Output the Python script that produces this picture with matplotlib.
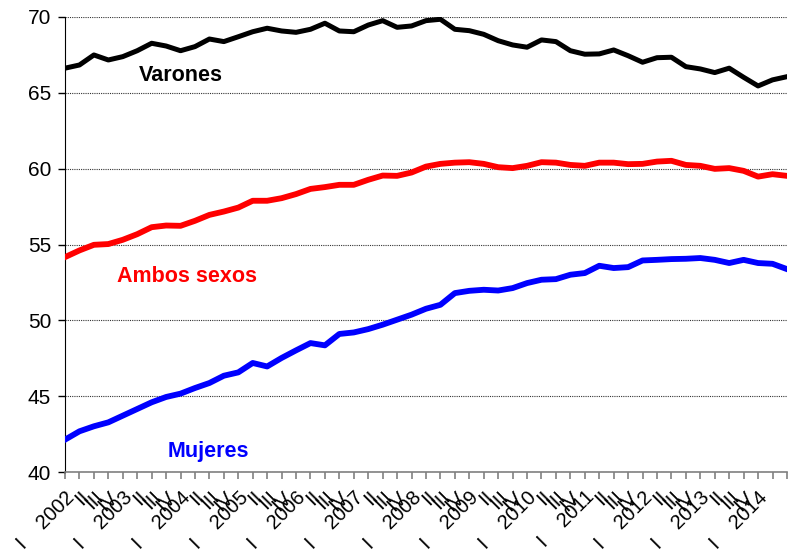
import matplotlib
matplotlib.use("Agg")
import matplotlib.pyplot as plt

plt.rcParams['font.family'] = ['Liberation Sans', 'DejaVu Sans']

# quarters 2002 I .. 2014 III
years = list(range(2002, 2015))
quarters = ['I', 'II', 'III', 'IV']

varones = [66.61, 66.82, 67.48, 67.15, 67.37, 67.76, 68.25, 68.07, 67.76, 68.03,
           68.53, 68.36, 68.68, 69.01, 69.24, 69.06, 68.97, 69.17, 69.57, 69.06,
           69.01, 69.45, 69.74, 69.30, 69.39, 69.74, 69.83, 69.17, 69.08, 68.84,
           68.42, 68.14, 67.99, 68.47, 68.36, 67.76, 67.53, 67.55, 67.81, 67.43,
           67.00, 67.30, 67.33, 66.71, 66.56, 66.32, 66.61, 66.01, 65.44, 65.84,
           66.05]
ambos = [54.17, 54.61, 54.98, 55.03, 55.31, 55.68, 56.14, 56.25, 56.23, 56.56,
         56.95, 57.17, 57.43, 57.88, 57.88, 58.05, 58.32, 58.66, 58.78, 58.93,
         58.93, 59.26, 59.54, 59.52, 59.74, 60.13, 60.31, 60.39, 60.42, 60.31,
         60.09, 60.03, 60.18, 60.42, 60.39, 60.24, 60.18, 60.39, 60.39, 60.29,
         60.31, 60.46, 60.51, 60.24, 60.18, 59.98, 60.03, 59.85, 59.47, 59.63,
         59.52]
mujeres = [42.15, 42.70, 43.03, 43.29, 43.73, 44.17, 44.61, 44.96, 45.18, 45.55,
           45.88, 46.36, 46.58, 47.20, 46.97, 47.53, 48.03, 48.51, 48.36, 49.11,
           49.21, 49.43, 49.72, 50.05, 50.38, 50.77, 51.03, 51.80, 51.95, 52.02,
           51.97, 52.13, 52.46, 52.68, 52.72, 53.01, 53.12, 53.60, 53.45, 53.51,
           53.95, 53.99, 54.04, 54.06, 54.11, 53.99, 53.78, 53.99, 53.78, 53.73,
           53.38]

n = len(varones)
labels = []
for y in years:
    for q in quarters:
        labels.append(f"I    {y}" if q == 'I' else q)
labels = labels[:n]
# last two quarters have no label in the source chart
labels[49] = ''
labels[50] = ''
x = list(range(n))

fig = plt.figure(figsize=(7.89, 5.51), dpi=100)
ax = fig.add_axes([0.0824, 0.1428, 0.915, 0.8269])

ax.plot(x, varones, color='black', lw=3.6, solid_joinstyle='round', zorder=3)
ax.plot(x, ambos, color='#ff0000', lw=4.2, solid_joinstyle='round', zorder=3)
ax.plot(x, mujeres, color='#0000ff', lw=4.2, solid_joinstyle='round', zorder=3)

ax.text(8.03, 66.16, 'Varones', color='black', fontsize=15.5, fontweight='bold',
        ha='center', va='center')
ax.text(8.48, 52.88, 'Ambos sexos', color='#ff0000', fontsize=15.5, fontweight='bold',
        ha='center', va='center')
ax.text(9.9, 41.36, 'Mujeres', color='#0000ff', fontsize=15.5, fontweight='bold',
        ha='center', va='center')

ax.set_xlim(0, n - 1)
ax.set_ylim(40, 70)
ax.set_yticks([40, 45, 50, 55, 60, 65, 70])
ax.set_xticks(x)
ax.set_xticklabels(labels, rotation=45, ha='right', rotation_mode='anchor')

ax.yaxis.grid(True, linestyle=(0, (1, 1)), color='#333333', lw=0.8)
ax.set_axisbelow(True)

ax.spines['top'].set_visible(False)
ax.spines['right'].set_visible(False)
ax.spines['left'].set_color('black')
ax.spines['bottom'].set_color('#808080')
ax.spines['bottom'].set_linewidth(1.2)

ax.tick_params(axis='y', labelsize=15, length=5, width=1, color='black', pad=5)
ax.tick_params(axis='x', labelsize=14.5, length=5, width=1.2, color='#808080', pad=6)

fig.savefig('out.png', dpi=100)
